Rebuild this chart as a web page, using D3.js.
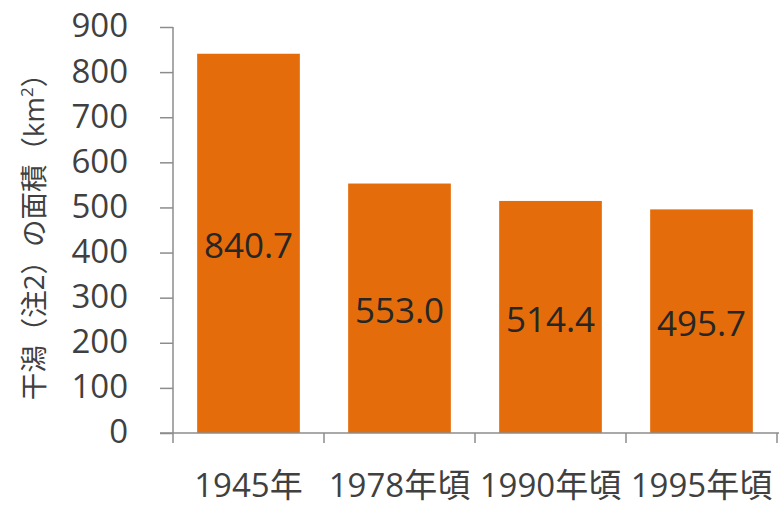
<!DOCTYPE html>
<html><head><meta charset="utf-8">
<script src="https://cdn.jsdelivr.net/npm/d3@7"></script>
<style>body{margin:0;background:#fff}svg{display:block}</style>
</head><body>
<script>
const categories = ["1945年", "1978年頃", "1990年頃", "1995年頃"];
const values = [840.7, 553.0, 514.4, 495.7];
const valueLabels = ["840.7", "553.0", "514.4", "495.7"];
const yTicks = [0, 100, 200, 300, 400, 500, 600, 700, 800, 900];

const W = 779, H = 508;
const svg = d3.select("body").append("svg").attr("width", W).attr("height", H);
const font = "'Open Sans','Noto Sans CJK JP',sans-serif";

const x = d3.scaleBand().domain(categories).range([173, 777]).paddingInner(0.32).paddingOuter(0.16);
const y = d3.scaleLinear().domain([0, 900]).range([433, 27]);

// y axis
const ya = svg.append("g").attr("transform", "translate(173,0)")
  .call(d3.axisLeft(y).tickValues(yTicks).tickSize(13).tickPadding(32));
ya.select(".domain").attr("stroke", "#8c8c8c").attr("stroke-width", 1.5).attr("d", `M0,${y(900)}V${y(0)}`);
ya.selectAll(".tick line").attr("stroke", "#8c8c8c").attr("stroke-width", 1.5);
ya.selectAll(".tick text").attr("font-family", font).attr("font-size", 33).attr("fill", "#404040").attr("dy", "0.3em");

// bars
svg.append("g").selectAll("rect").data(values).join("rect")
  .attr("x", (d, i) => x(categories[i]))
  .attr("width", x.bandwidth())
  .attr("y", d => y(d))
  .attr("height", d => y(0) - y(d))
  .attr("fill", "#E46C0A");

// x axis
const xa = svg.append("g").attr("transform", "translate(0,433)");
xa.append("line").attr("x1", 160).attr("x2", 779).attr("y1", 0).attr("y2", 0)
  .attr("stroke", "#8c8c8c").attr("stroke-width", 1.5);
const bounds = [173].concat(categories.map(c => x(c) - x.step() * x.paddingInner() / 2 + x.step()));
xa.selectAll("line.tk").data(bounds).join("line").attr("class", "tk")
  .attr("x1", d => d).attr("x2", d => d).attr("y1", 0).attr("y2", 10)
  .attr("stroke", "#8c8c8c").attr("stroke-width", 1.5);
xa.selectAll("text").data(categories).join("text")
  .attr("x", d => x(d) + x.bandwidth() / 2)
  .attr("y", 64)
  .attr("text-anchor", "middle")
  .attr("font-family", font).attr("font-size", 33).attr("fill", "#404040")
  .text(d => d);

// value labels
svg.append("g").selectAll("text").data(values).join("text")
  .attr("x", (d, i) => x(categories[i]) + x.bandwidth() / 2)
  .attr("y", d => (y(d) + y(0)) / 2 + 2)
  .attr("dy", "0.36em")
  .attr("text-anchor", "middle")
  .attr("font-family", font).attr("font-size", 35).attr("fill", "#262626")
  .text((d, i) => valueLabels[i]);

// y title
const yt = svg.append("text")
  .attr("transform", "translate(44,230) rotate(-90)")
  .attr("text-anchor", "middle")
  .attr("font-family", font).attr("font-size", 27.5).attr("fill", "#404040");
yt.append("tspan").text("干潟（注2）の面積（km");
yt.append("tspan").attr("font-size", 17).attr("dy", -11).text("2");
yt.append("tspan").attr("dy", 11).text("）");
</script>
</body></html>
